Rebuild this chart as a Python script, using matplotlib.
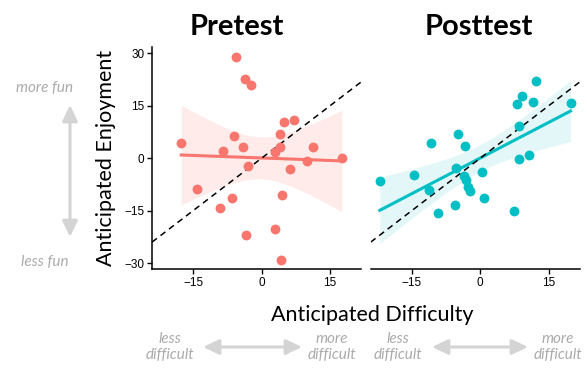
import numpy as np
import matplotlib
matplotlib.use("Agg")
import matplotlib.pyplot as plt
from matplotlib.patches import FancyArrowPatch

# values
pre_x = [-17.6, -14.1, -9.1, -8.5, -6.1, -6.4, -5.6, -4.0, -3.7, -2.3, -3.0, -3.4,
         2.9, 2.9, 4.0, 4.1, 4.5, 4.3, 4.9, 6.2, 7.2, 10.0, 11.2, 17.6]
pre_y = [4.3, -8.9, -14.3, 2.0, 6.3, -11.5, 29.1, 3.1, 22.6, 20.9, -2.2, -21.9,
         1.9, -20.3, 6.9, 3.1, -10.6, -29.0, 10.4, -3.0, 11.0, -0.9, 3.1, 0.0]
post_x = [-22.0, -14.4, -11.3, -10.8, -9.2, -5.6, -5.3, -4.8, -3.4, -3.6, -3.1, -2.6,
          -2.3, 0.3, 0.9, 7.4, 8.0, 9.1, 8.6, 8.6, 10.8, 11.6, 12.2, 19.8]
post_y = [-6.4, -4.8, -9.1, 4.4, -15.7, -13.5, -2.9, 6.8, 3.5, -5.1, -6.2, -8.1,
          -9.4, -3.9, -11.5, -15.0, 15.4, 17.9, 9.3, -0.3, 0.9, 16.1, 22.2, 15.8]

panels = ["Pretest", "Posttest"]
colors = ["#F8766D", "#00BFC4"]
band_alpha = [0.14, 0.11]
x_ticks = [-15, 0, 15]
y_ticks = [-30, -15, 0, 15, 30]
xlim = (-24, 21.8)
ylim = (-31.8, 31.9)

T95 = 2.074  # t quantile, df = 22


def fit_band(x, y):
    x = np.asarray(x)
    y = np.asarray(y)
    n = len(x)
    b, a = np.polyfit(x, y, 1)
    resid = y - (a + b * x)
    s = np.sqrt(np.sum(resid ** 2) / (n - 2))
    xs = np.linspace(x.min(), x.max(), 80)
    fit = a + b * xs
    se = s * np.sqrt(1 / n + (xs - x.mean()) ** 2 / np.sum((x - x.mean()) ** 2))
    return xs, fit, fit - T95 * se, fit + T95 * se


def lab(v):
    return str(v).replace("-", "\u2212")


plt.rcParams["font.family"] = ["Lato", "DejaVu Sans"]

fig = plt.figure(figsize=(5.87, 3.68), dpi=100)
ax1 = fig.add_axes([0.259, 0.268, 0.356, 0.605])
ax2 = fig.add_axes([0.6315, 0.268, 0.356, 0.605])

data = [(pre_x, pre_y), (post_x, post_y)]
for i, ax in enumerate([ax1, ax2]):
    x, y = data[i]
    c = colors[i]
    xs, fit, lo, hi = fit_band(x, y)
    ax.fill_between(xs, lo, hi, color=c, alpha=band_alpha[i], lw=0)
    ax.plot(xs, fit, color=c, lw=2.2)
    ax.plot(xlim, xlim, ls=(0, (4, 3)), color="black", lw=1.1)
    ax.scatter(x, y, s=50, color=c, zorder=3, lw=0)
    ax.set_xlim(xlim)
    ax.set_ylim(ylim)
    ax.set_xticks(x_ticks)
    ax.set_xticklabels([lab(v) for v in x_ticks], family="Liberation Sans", fontsize=8.5)
    for s in ["top", "right"]:
        ax.spines[s].set_visible(False)
    ax.spines["bottom"].set_linewidth(1.1)
    ax.spines["left"].set_linewidth(1.1)
    ax.tick_params(length=3.5, width=1, pad=2)

ax1.set_yticks(y_ticks)
ax1.set_yticklabels([lab(v) for v in y_ticks], family="Liberation Sans", fontsize=8.5)
ax2.set_yticks([])
ax2.spines["left"].set_visible(False)

ax1.set_ylabel("Anticipated Enjoyment", fontsize=15.5, labelpad=6)

fig.text(237 / 587, 1 - 35 / 368, "Pretest", fontsize=21, fontweight="bold", ha="center", va="baseline")
fig.text(479 / 587, 1 - 35 / 368, "Posttest", fontsize=21, fontweight="bold", ha="center", va="baseline")
fig.text(372 / 587, 1 - 321 / 368, "Anticipated Difficulty", fontsize=15.5,
         ha="center", va="baseline")

grey_txt = "#ababab"
grey_arr = "#d4d4d4"
arrow = dict(arrowstyle="<|-|>,head_length=0.8,head_width=0.38", color=grey_arr, lw=2.2,
             shrinkA=0, shrinkB=0, mutation_scale=12, transform=fig.transFigure)

# vertical helper arrow
fig.text(45 / 587, 1 - 88 / 368, "more fun", fontsize=11, style="italic", color=grey_txt,
         ha="center", va="center")
fig.text(45 / 587, 1 - 262 / 368, "less fun", fontsize=11, style="italic", color=grey_txt,
         ha="center", va="center")
fig.add_artist(FancyArrowPatch((70 / 587, 1 - 105 / 368), (70 / 587, 1 - 237 / 368), **arrow))

# horizontal helper arrows
for lx, rx, a0, a1 in [(170, 332, 203, 302), (398, 558, 432, 528)]:
    fig.text(lx / 587, 1 - 347 / 368, "less\ndifficult", fontsize=11, style="italic",
             color=grey_txt, ha="center", va="center", linespacing=1.2)
    fig.text(rx / 587, 1 - 347 / 368, "more\ndifficult", fontsize=11, style="italic",
             color=grey_txt, ha="center", va="center", linespacing=1.2)
    fig.add_artist(FancyArrowPatch((a0 / 587, 1 - 347 / 368), (a1 / 587, 1 - 347 / 368), **arrow))

fig.savefig("out.png", dpi=100)
